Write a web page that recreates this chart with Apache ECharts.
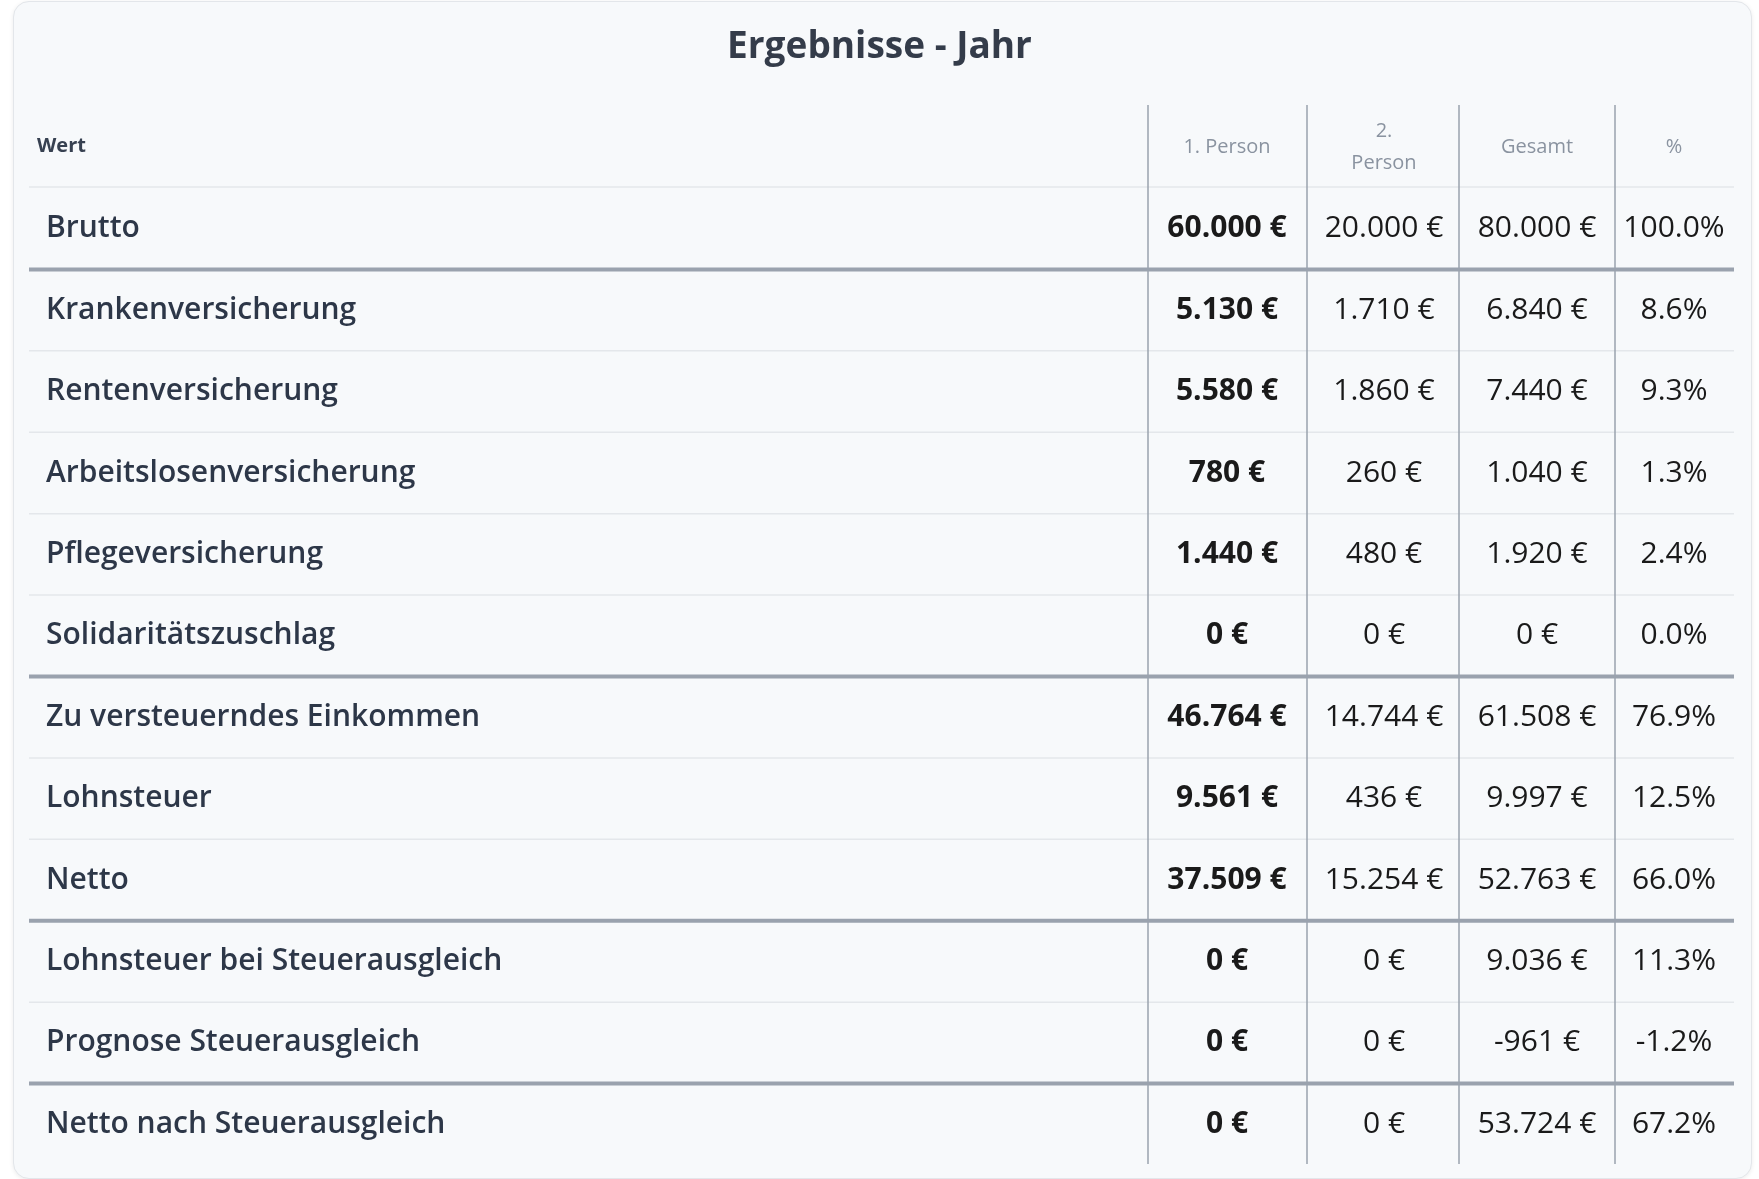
<!DOCTYPE html>
<html>
<head>
<meta charset="utf-8">
<script src="https://cdn.jsdelivr.net/npm/echarts@6/dist/echarts.min.js"></script>
<style>
  html, body { margin: 0; padding: 0; background: #ffffff; }
  #card {
    position: absolute; left: 13px; top: 1px; width: 1737px; height: 1176px;
    background: #f7f9fb; border: 1px solid #e3e6ea; border-radius: 16px;
    box-shadow: 0 1px 4px rgba(0,0,0,0.08);
  }
  #chart { position: absolute; left: 0; top: 0; width: 1759px; height: 1179px; }
</style>
</head>
<body>
<div id="card"></div>
<div id="chart"></div>
<script>
const title = 'Ergebnisse - Jahr';
const headers = ['Wert', '1. Person', '2.\nPerson', 'Gesamt', '%'];
const rowLabels = [
    'Brutto', 'Krankenversicherung', 'Rentenversicherung', 'Arbeitslosenversicherung',
    'Pflegeversicherung', 'Solidaritätszuschlag', 'Zu versteuerndes Einkommen',
    'Lohnsteuer', 'Netto', 'Lohnsteuer bei Steuerausgleich', 'Prognose Steuerausgleich',
    'Netto nach Steuerausgleich'
];
const person1 = ['60.000 €', '5.130 €', '5.580 €', '780 €', '1.440 €', '0 €', '46.764 €', '9.561 €', '37.509 €', '0 €', '0 €', '0 €'];
const person2 = ['20.000 €', '1.710 €', '1.860 €', '260 €', '480 €', '0 €', '14.744 €', '436 €', '15.254 €', '0 €', '0 €', '0 €'];
const gesamt = ['80.000 €', '6.840 €', '7.440 €', '1.040 €', '1.920 €', '0 €', '61.508 €', '9.997 €', '52.763 €', '9.036 €', '-961 €', '53.724 €'];
const percent = ['100.0%', '8.6%', '9.3%', '1.3%', '2.4%', '0.0%', '76.9%', '12.5%', '66.0%', '11.3%', '-1.2%', '67.2%'];
// rows after which a thick separator is drawn
const thickAfter = [0, 5, 8, 10];

// layout (x in grid units = pixels from table left)
const colCenters = [0, 1198, 1355, 1508, 1645];
const colLines = [1119, 1278, 1430, 1586];
const tableWidth = 1705;
const FONT = '"Open Sans", "Noto Sans", sans-serif';

const chart = echarts.init(document.getElementById('chart'));

const cellData = [];
rowLabels.forEach((label, r) => {
    [label, person1[r], person2[r], gesamt[r], percent[r]].forEach((v, c) => {
        cellData.push([c, r, v]);
    });
});

function renderCell(params, api) {
    const c = api.value(0), r = api.value(1);
    const text = cellData[params.dataIndex][2];
    const y = api.coord([0, r])[1];
    const x = api.coord([colCenters[c], r])[0];
    const children = [];
    children.push({
        type: 'text',
        style: {
            x: c === 0 ? api.coord([17, r])[0] : x,
            y: y,
            text: text,
            textAlign: c === 0 ? 'left' : 'center',
            textVerticalAlign: 'middle',
            font: (c === 0 ? '600 ' : (c === 1 ? 'bold ' : '400 ')) + '30px ' + FONT,
            fill: c === 0 ? '#2d3748' : '#1a1a1a'
        }
    });
    if (c === 0 && r < rowLabels.length - 1) {
        const yb = (y + api.coord([0, r + 1])[1]) / 2;
        const thick = thickAfter.indexOf(r) >= 0;
        children.push({
            type: 'line',
            shape: { x1: api.coord([0, r])[0], y1: yb, x2: api.coord([tableWidth, r])[0], y2: yb },
            style: { stroke: thick ? '#9aa2ae' : '#e4e7eb', lineWidth: thick ? 4 : 1.5 }
        });
    }
    return { type: 'group', children: children };
}

const option = {
    animation: false,
    title: {
        text: title,
        left: 'center',
        top: 24,
        textStyle: { fontFamily: FONT, fontSize: 37, fontWeight: 'bold', color: '#343c4a' }
    },
    grid: { left: 29, right: 25, top: 188, bottom: 14 },
    xAxis: { type: 'value', min: 0, max: tableWidth, show: false },
    yAxis: { type: 'category', data: rowLabels, inverse: true, show: false },
    graphic: [
        // header
        { type: 'text', left: 37, top: 136, style: { text: headers[0], font: 'bold 20px ' + FONT, fill: '#374151' } },
        ...headers.slice(1).map((h, i) => ({
            type: 'text',
            x: 29 + colCenters[i + 1],
            y: 147,
            style: {
                text: h, textAlign: 'center', textVerticalAlign: 'middle',
                font: '400 20px ' + FONT, fill: '#8a93a0', lineHeight: 32
            }
        })),
        { type: 'line', shape: { x1: 29, y1: 187, x2: 29 + tableWidth, y2: 187 }, style: { stroke: '#e4e7eb', lineWidth: 1.5 } },
        ...colLines.map(x => ({
            type: 'line',
            shape: { x1: 29 + x, y1: 105, x2: 29 + x, y2: 1164 },
            style: { stroke: '#9aa2ae', lineWidth: 1.5 },
            z: 10
        }))
    ],
    series: [{
        type: 'custom',
        renderItem: renderCell,
        data: cellData.map(d => [d[0], d[1]]),
        encode: { x: 0, y: 1 }
    }]
};

chart.setOption(option);
</script>
</body>
</html>
